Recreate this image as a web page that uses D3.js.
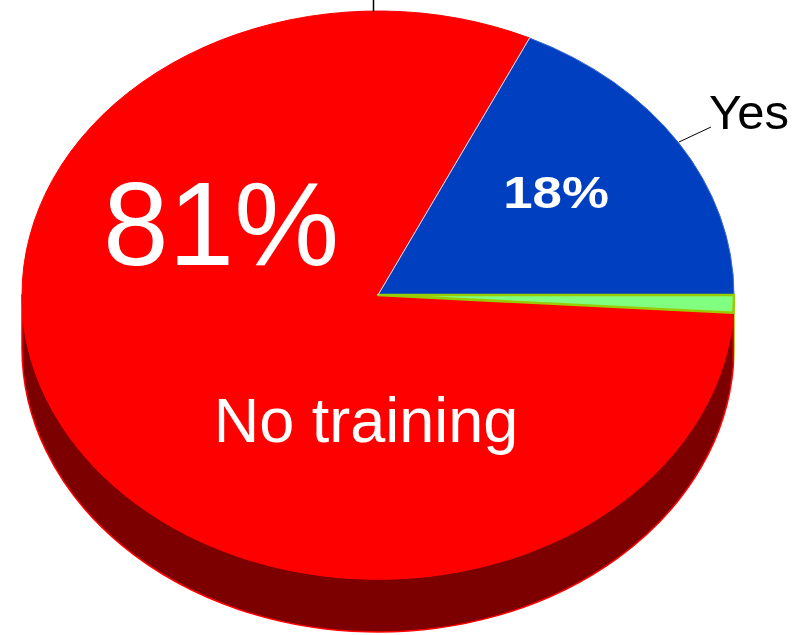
<!DOCTYPE html>
<html>
<head>
<meta charset="utf-8">
<script src="https://cdn.jsdelivr.net/npm/d3@7/dist/d3.min.js"></script>
<style>
  html, body { margin: 0; padding: 0; background: #fff; }
  svg { display: block; }
  text { font-family: "Liberation Sans", Arial, sans-serif; }
</style>
</head>
<body>
<svg id="chart" width="806" height="635"></svg>
<script>
// Survey answers (percent of respondents)
const categories = ["Yes", "Other", "No training"];
const values = [18, 1, 81];
const percentLabels = ["18%", "", "81%"];

const topColors = ["#0040c0", "#80ff80", "#ff0000"];
const sideColors = ["#002070", "#40a040", "#7d0000"];
const edgeColors = ["#3a6ad8", "#99cc00", "#ff0000"];

const W = 806, H = 635;
const cx = 378, cy = 295;      // centre of the top face
const rx = 356, ry = 284;      // ellipse radii of the tilted disc
const depth = 53;              // thickness of the disc

const svg = d3.select("#chart");

// "Yes" starts its sweep so that it ends exactly at three o'clock
const total = d3.sum(values);
const start = Math.PI / 2 - 2 * Math.PI * values[0] / total;
const pie = d3.pie().sort(null).value(d => d.value)
  .startAngle(start).endAngle(start + 2 * Math.PI);

const data = categories.map((c, i) => ({ category: c, value: values[i], i }));
const arcs = pie(data);

const px = a => cx + rx * Math.sin(a);
const py = (a, dz = 0) => cy - ry * Math.cos(a) + dz;

// Outer wall of the disc, only the front half (3 o'clock .. 9 o'clock) is seen
function sidePath(a0, a1) {
  const lo = Math.max(a0, Math.PI / 2), hi = Math.min(a1, 3 * Math.PI / 2);
  if (hi <= lo) return null;
  const large = hi - lo > Math.PI ? 1 : 0;
  return `M${px(lo)},${py(lo)} A${rx},${ry} 0 ${large} 1 ${px(hi)},${py(hi)}` +
         ` L${px(hi)},${py(hi, depth)} A${rx},${ry} 0 ${large} 0 ${px(lo)},${py(lo, depth)} Z`;
}

function topPath(a0, a1) {
  const large = a1 - a0 > Math.PI ? 1 : 0;
  return `M${cx},${cy} L${px(a0)},${py(a0)} A${rx},${ry} 0 ${large} 1 ${px(a1)},${py(a1)} Z`;
}

const sides = svg.append("g").attr("class", "sides");
arcs.forEach(d => {
  const p = sidePath(d.startAngle, d.endAngle);
  if (p) sides.append("path").attr("d", p)
    .attr("fill", sideColors[d.data.i])
    .attr("stroke", d.data.i === 2 ? "#ff0000" : edgeColors[d.data.i])
    .attr("stroke-width", 1.5).attr("stroke-linejoin", "round");
});

const tops = svg.append("g").attr("class", "tops");
// draw the large slice first so the thin ones keep their outlines on top
[2, 0, 1].forEach(k => {
  const d = arcs[k];
  tops.append("path").attr("d", topPath(d.startAngle, d.endAngle))
    .attr("fill", topColors[k])
    .attr("stroke", edgeColors[k])
    .attr("stroke-width", k === 1 ? 2.5 : 1)
    .attr("stroke-linejoin", "round");
});

// faint highlight along the radial edge between "Yes" and "No training"
tops.append("line")
  .attr("x1", cx).attr("y1", cy)
  .attr("x2", px(arcs[0].startAngle)).attr("y2", py(arcs[0].startAngle))
  .attr("stroke", "#ffd8d8").attr("stroke-width", 1);

const labels = svg.append("g").attr("fill", "#fff");

// "81%" value of "No training"
labels.append("text")
  .attr("x", cx - 157).attr("y", cy - 30)
  .attr("text-anchor", "middle")
  .attr("font-size", 118)
  .text(percentLabels[2]);

// category name inside the large slice
labels.append("text")
  .attr("x", cx - 12).attr("y", cy + 147)
  .attr("text-anchor", "middle")
  .attr("font-size", 63)
  .text(categories[2]);

// "18%" value of "Yes"
labels.append("text")
  .attr("transform", `translate(${cx + 178},${cy - 87}) scale(1.2,1)`)
  .attr("text-anchor", "middle")
  .attr("font-size", 44)
  .attr("font-weight", "bold")
  .text(percentLabels[0]);

// "Yes" category label outside the disc with its leader
svg.append("line")
  .attr("x1", 679).attr("y1", 142).attr("x2", 711).attr("y2", 127)
  .attr("stroke", "#000").attr("stroke-width", 1);
svg.append("text")
  .attr("x", 709).attr("y", 129)
  .attr("font-size", 49)
  .attr("fill", "#000")
  .text(categories[0]);

// leader of a label that sits above the plot area
svg.append("line")
  .attr("x1", 373.5).attr("y1", 0).attr("x2", 373.5).attr("y2", py(0) + 1)
  .attr("stroke", "#000").attr("stroke-width", 1.5);
</script>
</body>
</html>
